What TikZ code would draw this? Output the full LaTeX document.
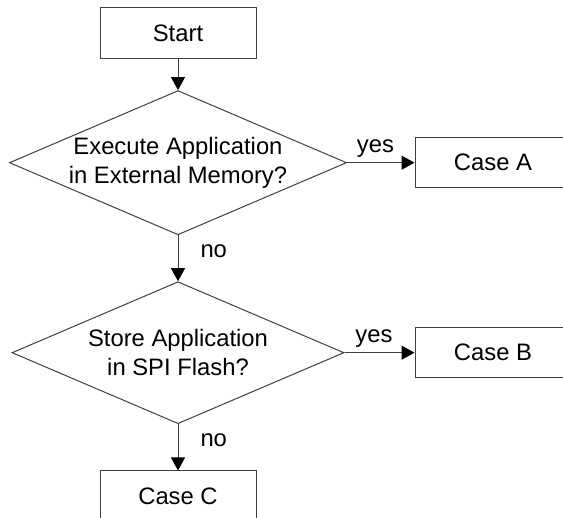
\documentclass[tikz,border=0pt]{standalone}
\usepackage{fontspec}
\setmainfont{Liberation Sans}
\usetikzlibrary{arrows.meta,shapes.geometric}
\definecolor{linec}{RGB}{64,64,64}
\tikzset{
  base/.style={font=\fontsize{23.8}{28.7}\selectfont},
  boxnode/.style={base, draw=linec, line width=1pt, rectangle, minimum width=156pt, minimum height=50pt, inner sep=0pt},
  decision/.style={base, draw=linec, line width=1pt, diamond, aspect=2.338, minimum width=332pt, minimum height=142pt, inner sep=0pt, align=center},
  arr/.style={draw=linec, line width=1pt, -{Triangle[length=13pt,width=14pt,fill=black,color=black]}},
  lbl/.style={base, inner sep=0pt}
}
\begin{document}
\begin{tikzpicture}[x=1pt,y=-1pt]
\useasboundingbox (0,0) rectangle (563,518);
\clip (0,0) rectangle (563,518);
\node[boxnode, minimum height=51pt] (start) at (178,33.5) {Start};
\node[decision] (d1) at (178,162.7) {Execute Application\\in External Memory?};
\node[boxnode] (caseA) at (493,162.7) {Case A};
\node[decision] (d2) at (178,352.7) {Store Application\\in SPI Flash?};
\node[boxnode] (caseB) at (493,352.7) {Case B};
\node[boxnode] (caseC) at (178,496) {Case C};
\draw[arr] (start) -- (d1);
\draw[arr] (d1.east) -- node[lbl, pos=0.42, above=5pt] {yes} (caseA);
\draw[arr] (d1.south) -- node[lbl, pos=0.34, right=22pt] {no} (d2.north);
\draw[arr] (d2.east) -- node[lbl, pos=0.42, above=5pt] {yes} (caseB);
\draw[arr] (d2.south) -- node[lbl, pos=0.34, right=22pt] {no} (caseC);
\end{tikzpicture}
\end{document}
